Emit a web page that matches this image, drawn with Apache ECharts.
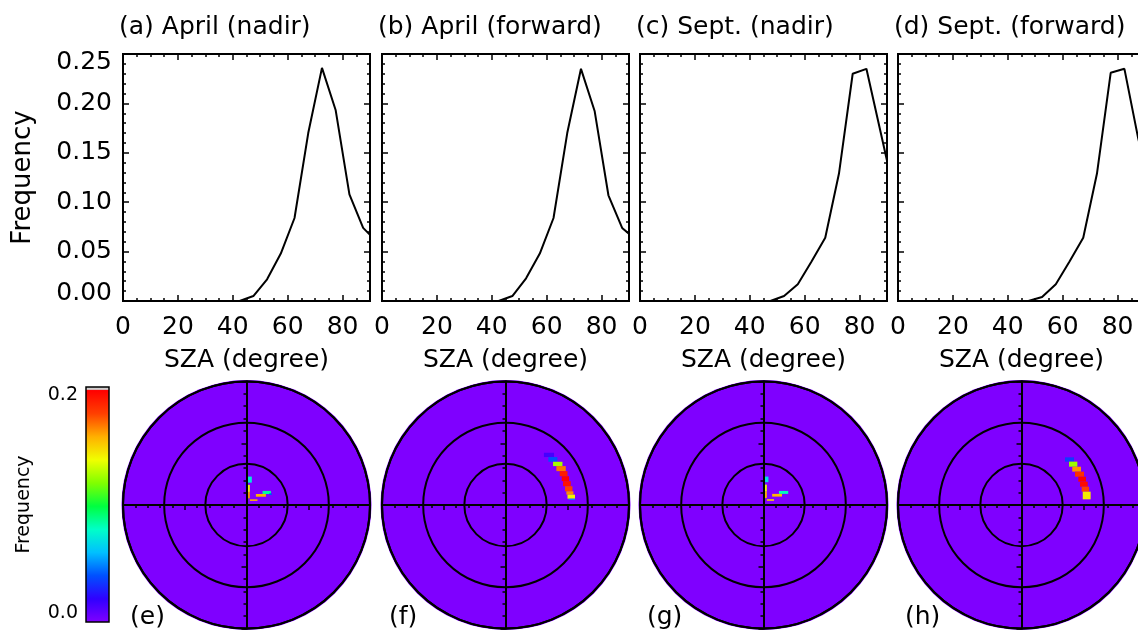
<!DOCTYPE html>
<html>
<head>
<meta charset="UTF-8">
<title>SZA frequency</title>
<script src="https://cdn.jsdelivr.net/npm/echarts@6.0.0/dist/echarts.min.js"></script>
<style>
  html, body { margin: 0; padding: 0; background: #fff; }
  #chart { width: 1138px; height: 633px; }
</style>
</head>
<body>
<div id="chart"></div>
<script>
// SZA histogram bins (deg) and frequencies per panel
const szaBins = [2.5, 7.5, 12.5, 17.5, 22.5, 27.5, 32.5, 37.5, 42.5, 47.5, 52.5, 57.5, 62.5, 67.5, 72.5, 77.5, 82.5, 87.5, 92.5];
const freqAprNadir   = [0, 0, 0, 0, 0, 0, 0, 0, 0, 0.005, 0.022, 0.048, 0.084, 0.170, 0.236, 0.193, 0.108, 0.074, 0.060];
const freqAprForward = [0, 0, 0, 0, 0, 0, 0, 0, 0, 0.005, 0.023, 0.048, 0.084, 0.170, 0.235, 0.192, 0.107, 0.074, 0.062];
const freqSepNadir   = [0, 0, 0, 0, 0, 0, 0, 0, 0, 0, 0.005, 0.017, 0.040, 0.064, 0.129, 0.230, 0.235, 0.173, 0.111];
const freqSepForward = [0, 0, 0, 0, 0, 0, 0, 0, 0, 0, 0.004, 0.017, 0.040, 0.064, 0.129, 0.231, 0.235, 0.165, 0.105];

const topTitles = ['(a) April (nadir)', '(b) April (forward)', '(c) Sept. (nadir)', '(d) Sept. (forward)'];
const bottomLetters = ['(e)', '(f)', '(g)', '(h)'];

// polar frequency cells: [x0, x1, y0, y1, frequency], x/y in units of the disc radius
const cellsAprNadir = [
  [-0.008, 0.013, 0.128, 0.187, 0.040],
  [0.008, 0.043, 0.181, 0.230, 0.074],
  [0.008, 0.027, 0.106, 0.163, 0.140],
  [0.008, 0.027, 0.054, 0.106, 0.165],
  [0.130, 0.198, 0.089, 0.114, 0.086],
  [0.185, 0.206, 0.081, 0.095, 0.040],
  [0.076, 0.157, 0.067, 0.089, 0.160],
  [0.027, 0.089, 0.033, 0.046, 0.160]
];
const cellsAprForward = [
  [0.311, 0.393, 0.388, 0.423, 0.015],
  [0.347, 0.420, 0.350, 0.388, 0.040],
  [0.385, 0.461, 0.315, 0.350, 0.126],
  [0.412, 0.488, 0.274, 0.315, 0.170],
  [0.439, 0.502, 0.233, 0.274, 0.192],
  [0.455, 0.515, 0.193, 0.233, 0.200],
  [0.466, 0.528, 0.152, 0.193, 0.195],
  [0.482, 0.542, 0.111, 0.152, 0.180],
  [0.493, 0.550, 0.084, 0.111, 0.166],
  [0.502, 0.563, 0.051, 0.084, 0.142],
  [0.510, 0.563, 0.041, 0.051, 0.050]
];
const cellsSepNadir = [
  [-0.008, 0.013, 0.130, 0.185, 0.040],
  [0.008, 0.040, 0.185, 0.230, 0.070],
  [0.008, 0.027, 0.108, 0.165, 0.140],
  [0.008, 0.027, 0.056, 0.108, 0.160],
  [0.125, 0.200, 0.090, 0.114, 0.082],
  [0.070, 0.150, 0.068, 0.090, 0.158],
  [0.027, 0.085, 0.034, 0.047, 0.150]
];
const cellsSepForward = [
  [0.352, 0.425, 0.351, 0.386, 0.035],
  [0.385, 0.452, 0.310, 0.351, 0.125],
  [0.411, 0.482, 0.270, 0.310, 0.165],
  [0.433, 0.506, 0.229, 0.270, 0.185],
  [0.460, 0.522, 0.189, 0.229, 0.200],
  [0.474, 0.536, 0.148, 0.189, 0.197],
  [0.487, 0.547, 0.108, 0.148, 0.180],
  [0.496, 0.560, 0.046, 0.108, 0.145]
];

const colorbarRange = [0, 0.2];
// rainbow colour table, evenly spaced from 0.0 to 0.2
const cmapColors = ['#7f00ff', '#3000ff', '#0050ff', '#00c0ff', '#00ffc8', '#00ff40',
                    '#80ff00', '#f0ff00', '#ffb000', '#ff4000', '#ff0000'];

const FONT = 'DejaVu Sans';
const panelLeft = [123, 382, 640, 898];
const boxW = 247, boxTop = 54, boxH = 247;
const discR = 123.5, discCy = 505;

const chart = echarts.init(document.getElementById('chart'));

const grids = [], xAxes = [], yAxes = [], series = [], titles = [];
const polars = [], angleAxes = [], radiusAxes = [];
const tickLine = { color: '#000', width: 1.5 };

const topData = [freqAprNadir, freqAprForward, freqSepNadir, freqSepForward];
const cellData = [cellsAprNadir, cellsAprForward, cellsSepNadir, cellsSepForward];

function near(a, b) { return Math.abs(a - b) < 1e-9; }

// top row: SZA histograms
topData.forEach(function (vals, i) {
  const gi = grids.length;
  grids.push({
    left: panelLeft[i], top: boxTop, width: boxW, height: boxH,
    show: true, borderColor: '#000', borderWidth: 2, z: 4,
    outerBoundsMode: 'none'
  });
  const xBase = {
    gridIndex: gi, type: 'value', min: 0, max: 90,
    axisLine: { show: false, onZero: false }, splitLine: { show: false }
  };
  const xi = xAxes.length;
  xAxes.push(Object.assign({}, xBase, {
    position: 'bottom', interval: 20,
    axisTick: { inside: true, length: 6, lineStyle: tickLine },
    axisLabel: {
      margin: 14, fontSize: 25, fontFamily: FONT, color: '#000',
      formatter: function (v) { return v >= 90 ? '' : String(v); }
    },
    name: 'SZA (degree)', nameLocation: 'middle', nameGap: 47,
    nameTextStyle: { fontSize: 25, fontFamily: FONT, color: '#000' }
  }));
  xAxes.push(Object.assign({}, xBase, {
    position: 'bottom', interval: 5, axisLabel: { show: false },
    axisTick: { inside: true, length: 3, lineStyle: tickLine }
  }));
  xAxes.push(Object.assign({}, xBase, {
    position: 'top', interval: 20, axisLabel: { show: false },
    axisTick: { inside: true, length: 6, lineStyle: tickLine }
  }));
  xAxes.push(Object.assign({}, xBase, {
    position: 'top', interval: 5, axisLabel: { show: false },
    axisTick: { inside: true, length: 3, lineStyle: tickLine }
  }));

  const yBase = {
    gridIndex: gi, type: 'value', min: 0, max: 0.25, interval: 0.05,
    axisLine: { show: false, onZero: false }, splitLine: { show: false },
    axisTick: { inside: true, length: 6, lineStyle: tickLine },
    minorTick: { show: true, splitNumber: 5, length: 3, lineStyle: tickLine }
  };
  const yi = yAxes.length;
  yAxes.push(Object.assign({}, yBase, {
    position: 'left',
    axisLabel: i === 0 ? {
      margin: 11, fontSize: 25, fontFamily: FONT, color: '#000',
      formatter: function (v) {
        if (near(v, 0)) return '{lo|0.00}';
        if (near(v, 0.25)) return '{hi|0.25}';
        return v.toFixed(2);
      },
      rich: {
        lo: { fontSize: 25, fontFamily: FONT, color: '#000', padding: [0, 0, 16, 0] },
        hi: { fontSize: 25, fontFamily: FONT, color: '#000', padding: [16, 0, 0, 0] }
      }
    } : { show: false },
    name: i === 0 ? 'Frequency' : '', nameLocation: 'middle', nameGap: 87, nameRotate: 90,
    nameTextStyle: { fontSize: 26, fontFamily: FONT, color: '#000' }
  }));
  yAxes.push(Object.assign({}, yBase, { position: 'right', axisLabel: { show: false } }));

  series.push({
    type: 'line', xAxisIndex: xi, yAxisIndex: yi,
    data: szaBins.map(function (x, k) { return [x, vals[k]]; }),
    symbol: 'none', clip: true, z: 3,
    lineStyle: { color: '#000', width: 2 }
  });

  titles.push({
    text: topTitles[i], left: panelLeft[i] - 4, top: 15, padding: 0,
    textStyle: { fontSize: 25, fontWeight: 'normal', fontFamily: FONT, color: '#000' }
  });
});

// bottom row: polar frequency maps
function renderCell(params, api) {
  const a = api.coord([api.value(0), api.value(3)]);
  const b = api.coord([api.value(1), api.value(2)]);
  return {
    type: 'rect',
    shape: { x: a[0], y: a[1], width: b[0] - a[0], height: b[1] - a[1] },
    style: { fill: api.visual('color') }
  };
}

const cellSeries = [];
cellData.forEach(function (cells, i) {
  const cx = panelLeft[i] + boxW / 2;
  const pi = polars.length;

  // purple background disc
  polars.push({ center: [cx, discCy], radius: discR + 1.5 });
  angleAxes.push({
    polarIndex: pi, z: 0,
    axisLine: { show: false }, axisTick: { show: false }, axisLabel: { show: false }, splitLine: { show: false }
  });
  radiusAxes.push({
    polarIndex: pi, min: 0, max: 90, interval: 90, z: 0,
    axisLine: { show: false }, axisTick: { show: false }, axisLabel: { show: false }, splitLine: { show: false },
    splitArea: { show: true, areaStyle: { color: [cmapColors[0]] } }
  });

  // rings at 30, 60, 90
  polars.push({ center: [cx, discCy], radius: discR });
  angleAxes.push({
    polarIndex: pi + 1, z: 4,
    axisLine: { show: true, lineStyle: { color: '#000', width: 2 } },
    axisTick: { show: false }, axisLabel: { show: false }, splitLine: { show: false }
  });
  radiusAxes.push({
    polarIndex: pi + 1, min: 0, max: 90, interval: 30, z: 4,
    axisLine: { show: false }, axisTick: { show: false }, axisLabel: { show: false },
    splitLine: { show: true, lineStyle: { color: '#000', width: 2 } },
    splitArea: { show: false }
  });

  // crosshair with ticks + cells
  const gi = grids.length;
  grids.push({
    left: cx - discR, top: discCy - discR, width: 2 * discR, height: 2 * discR,
    show: false, outerBoundsMode: 'none'
  });
  const crossAxis = {
    gridIndex: gi, type: 'value', min: -1, max: 1, interval: 0.5, z: 4,
    axisLine: { show: true, onZero: true, lineStyle: { color: '#000', width: 2 } },
    axisTick: { show: true, length: 5, lineStyle: tickLine },
    minorTick: { show: true, splitNumber: 5, length: 3, lineStyle: tickLine },
    axisLabel: { show: false }, splitLine: { show: false }
  };
  const xi = xAxes.length, yi = yAxes.length;
  xAxes.push(Object.assign({}, crossAxis, { position: 'bottom' }));
  yAxes.push(Object.assign({}, crossAxis, { position: 'left' }));

  cellSeries.push(series.length);
  series.push({
    type: 'custom', xAxisIndex: xi, yAxisIndex: yi, z: 2,
    renderItem: renderCell, data: cells,
    encode: { x: [0, 1], y: [2, 3] }
  });

  titles.push({
    text: bottomLetters[i], left: panelLeft[i] + 7, top: 605, padding: 0,
    textStyle: { fontSize: 25, fontWeight: 'normal', fontFamily: FONT, color: '#000' }
  });
});

// colour bar
const cbGrid = grids.length;
grids.push({
  left: 86, top: 387, width: 23, height: 235,
  show: true, borderColor: '#000', borderWidth: 1.5, z: 5, outerBoundsMode: 'none'
});
const cbX = xAxes.length, cbY = yAxes.length;
xAxes.push({ gridIndex: cbGrid, type: 'category', data: ['cb'], show: false });
yAxes.push({
  gridIndex: cbGrid, type: 'value', min: colorbarRange[0], max: colorbarRange[1], interval: 0.1, z: 5,
  position: 'left',
  axisLine: { show: false, onZero: false }, splitLine: { show: false },
  axisTick: { inside: true, length: 5, lineStyle: tickLine },
  axisLabel: {
    margin: 8, fontSize: 19, fontFamily: FONT, color: '#000',
    formatter: function (v) {
      if (near(v, 0)) return '{lo|0.0}';
      if (near(v, 0.2)) return '{hi|0.2}';
      return '';
    },
    rich: {
      lo: { fontSize: 19, fontFamily: FONT, color: '#000', padding: [0, 0, 18, 0] },
      hi: { fontSize: 19, fontFamily: FONT, color: '#000', padding: [16, 0, 0, 0] }
    }
  },
  name: 'Frequency', nameLocation: 'middle', nameGap: 52, nameRotate: 90,
  nameTextStyle: { fontSize: 19, fontFamily: FONT, color: '#000' }
});
const cbStops = cmapColors.map(function (c, k) { return { offset: k / (cmapColors.length - 1) * 0.985, color: c }; });
cbStops.push({ offset: 0.99, color: '#cfcfcf' }, { offset: 1, color: '#cfcfcf' });
series.push({
  type: 'bar', xAxisIndex: cbX, yAxisIndex: cbY, data: [colorbarRange[1]],
  barWidth: '100%', z: 2, silent: true,
  itemStyle: { color: { type: 'linear', x: 0, y: 1, x2: 0, y2: 0, colorStops: cbStops } }
});

chart.setOption({
  backgroundColor: '#fff',
  animation: false,
  title: titles,
  grid: grids,
  xAxis: xAxes,
  yAxis: yAxes,
  polar: polars,
  angleAxis: angleAxes,
  radiusAxis: radiusAxes,
  visualMap: {
    type: 'continuous', show: false, min: colorbarRange[0], max: colorbarRange[1],
    dimension: 4, seriesIndex: cellSeries, inRange: { color: cmapColors }
  },
  series: series
});

window.addEventListener('resize', function () { chart.resize(); });
</script>
</body>
</html>
